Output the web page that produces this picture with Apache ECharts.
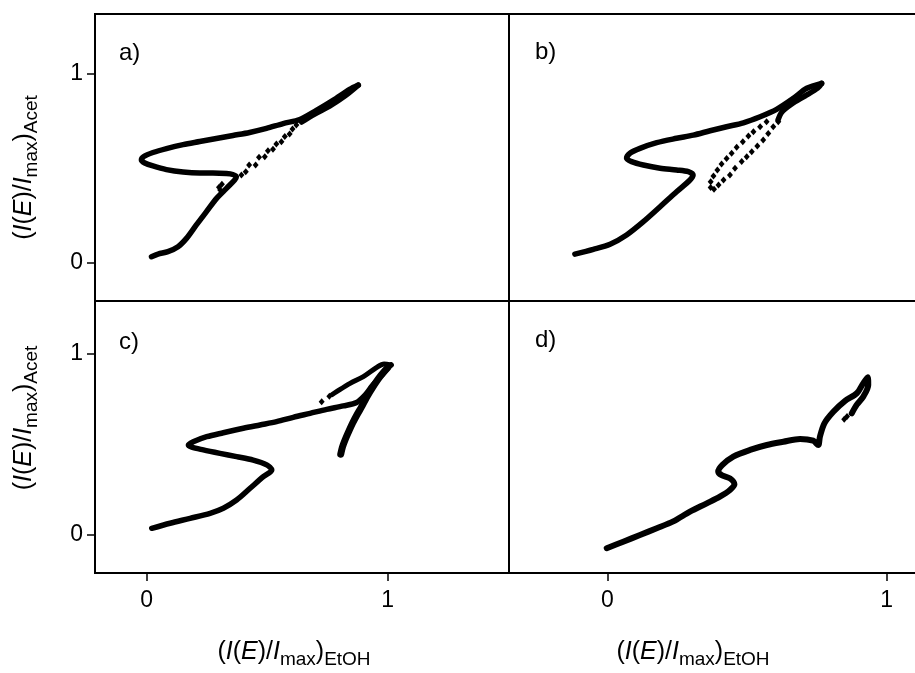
<!DOCTYPE html>
<html><head><meta charset="utf-8">
<script src="https://cdn.jsdelivr.net/npm/echarts@6/dist/echarts.min.js"></script>
<style>html,body{margin:0;padding:0;background:#fff}#c{width:915px;height:673px}</style>
</head><body><div id="c"></div>
<script>
// ---- tick values and labels ----
const xTicks = [0, 1];
const yTicks = [0, 1];
const panelLabels = ['a)', 'b)', 'c)', 'd)'];

// ---- panel a ----
const aPath = [[0.020,0.033],[0.047,0.047],[0.088,0.060],[0.130,0.086],[0.165,0.130],[0.206,0.201],[0.248,0.271],[0.290,0.341],[0.331,0.394],[0.365,0.438],[0.372,0.455],[0.357,0.467],[0.331,0.472],[0.275,0.475],[0.220,0.475],[0.151,0.480],[0.082,0.493],[0.026,0.512],[-0.008,0.528],[-0.022,0.544],[-0.012,0.562],[0.026,0.583],[0.082,0.604],[0.151,0.625],[0.220,0.641],[0.289,0.657],[0.358,0.673],[0.427,0.689],[0.497,0.710],[0.566,0.736],[0.635,0.757],[0.704,0.805],[0.773,0.858],[0.842,0.916],[0.878,0.939]];
const aReturn = [[0.878,0.939],[0.822,0.881],[0.759,0.828],[0.697,0.786],[0.643,0.744]];
const aDots = [[0.621,0.728],[0.605,0.707],[0.593,0.681],[0.573,0.667],[0.559,0.640],[0.538,0.628],[0.524,0.600],[0.503,0.593],[0.490,0.561],[0.466,0.558],[0.452,0.517],[0.425,0.517],[0.411,0.482],[0.393,0.464],[0.312,0.415],[0.300,0.400],[0.305,0.385]];

// ---- panel b ----
const bPath = [[-0.116,0.047],[-0.050,0.072],[0.010,0.099],[0.069,0.148],[0.129,0.218],[0.189,0.297],[0.248,0.376],[0.296,0.438],[0.307,0.464],[0.290,0.482],[0.248,0.491],[0.189,0.500],[0.129,0.517],[0.087,0.535],[0.069,0.553],[0.081,0.579],[0.117,0.605],[0.177,0.635],[0.248,0.658],[0.308,0.675],[0.368,0.698],[0.427,0.719],[0.487,0.740],[0.547,0.772],[0.606,0.811],[0.666,0.869],[0.714,0.922],[0.767,0.948]];
const bReturn = [[0.767,0.948],[0.753,0.923],[0.707,0.881],[0.660,0.839],[0.625,0.797],[0.611,0.755]];
const bDots = [[0.570,0.746],[0.547,0.719],[0.523,0.693],[0.505,0.670],[0.485,0.640],[0.463,0.611],[0.445,0.579],[0.427,0.552],[0.409,0.522],[0.394,0.491],[0.380,0.459],[0.370,0.429],
  [0.612,0.746],[0.594,0.719],[0.576,0.684],[0.558,0.649],[0.537,0.617],[0.517,0.587],[0.499,0.561],[0.481,0.535],[0.457,0.500],[0.439,0.464],[0.416,0.438],[0.398,0.412],
  [0.370,0.399],[0.382,0.389]];

// ---- panel c ----
const cPath = [[0.021,0.037],[0.097,0.065],[0.180,0.092],[0.263,0.120],[0.318,0.148],[0.373,0.193],[0.429,0.258],[0.484,0.322],[0.519,0.359],[0.498,0.387],[0.442,0.414],[0.373,0.433],[0.304,0.451],[0.235,0.470],[0.187,0.485],[0.173,0.497],[0.193,0.515],[0.249,0.543],[0.318,0.565],[0.401,0.590],[0.470,0.608],[0.539,0.626],[0.608,0.650],[0.678,0.672],[0.747,0.694],[0.816,0.713],[0.871,0.732],[0.906,0.773],[0.935,0.823],[0.968,0.873],[1.001,0.923],[1.014,0.939]];
const cLoopBack = [[1.014,0.939],[0.985,0.945],[0.953,0.925],[0.899,0.875],[0.844,0.838],[0.788,0.792],[0.770,0.776]];
const cDown = [[1.000,0.925],[0.968,0.875],[0.937,0.815],[0.912,0.760],[0.892,0.709],[0.872,0.663],[0.854,0.617],[0.838,0.571],[0.823,0.525],[0.812,0.485],[0.805,0.446]];
const cDots = [[0.758,0.766],[0.726,0.736]];

// ---- panel d ----
const dPath = [[-0.002,-0.073],[0.057,-0.037],[0.117,0.000],[0.177,0.037],[0.236,0.075],[0.296,0.129],[0.356,0.175],[0.403,0.212],[0.439,0.249],[0.455,0.280],[0.439,0.313],[0.409,0.331],[0.397,0.350],[0.412,0.387],[0.451,0.433],[0.511,0.470],[0.571,0.497],[0.630,0.515],[0.690,0.531],[0.737,0.521],[0.755,0.497],[0.761,0.543],[0.777,0.617],[0.809,0.681],[0.850,0.740],[0.893,0.783],[0.916,0.838],[0.932,0.872],[0.934,0.829],[0.916,0.764],[0.893,0.720],[0.875,0.672]];
const dDots = [[0.848,0.640],[0.858,0.655]];

const FONT = '"Liberation Sans", Arial, Helvetica, sans-serif';
const richName = {
  p: {fontSize: 25, fontFamily: FONT, lineHeight: 34, color: '#000'},
  i: {fontSize: 25, fontFamily: FONT, fontStyle: 'italic', lineHeight: 34, color: '#000'},
  s: {fontSize: 19, fontFamily: FONT, lineHeight: 19, verticalAlign: 'bottom', color: '#000'}
};
const yName = '{p|(}{i|I}{p|(}{i|E}{p|)/}{i|I}{s|max}{p|)}{s|Acet}';
const xName = '{p|(}{i|I}{p|(}{i|E}{p|)/}{i|I}{s|max}{p|)}{s|EtOH}';

const gridBox = [
  {left: 95, top: 14, width: 414, height: 287, show: true},
  {left: 509, top: 14, width: 406, height: 287, show: false},
  {left: 95, top: 301, width: 414, height: 272, show: true},
  {left: 509, top: 301, width: 406, height: 272, show: false}
];
const xRange = [[-0.2145, 1.5033], [-0.3518, 1.1013], [-0.2145, 1.5033], [-0.3518, 1.1013]];
const yRange = [[-0.2005, 1.314], [-0.2005, 1.314], [-0.21, 1.2928], [-0.21, 1.2928]];

const frameLine = {color: '#000', width: 2};
const tickStyle = {lineStyle: {color: '#000', width: 1.5}, length: 8, inside: false};
const labelStyle = {color: '#000', fontSize: 23, fontFamily: FONT};

const grids = gridBox.map(g => Object.assign({borderColor: '#000', borderWidth: 2, backgroundColor: 'transparent'}, g));

const xAxes = [];
[0,1,2,3].forEach(i => {
  const bottom = i >= 2;
  const right = (i % 2) === 1;
  const ax = {
    type: 'value', gridIndex: i, position: (i === 1) ? 'top' : 'bottom', min: xRange[i][0], max: xRange[i][1],
    axisLine: {show: right, onZero: false, lineStyle: frameLine}, splitLine: {show: false},
    axisTick: bottom ? Object.assign({show: true, customValues: xTicks}, tickStyle) : {show: false},
    axisLabel: bottom ? Object.assign({show: true, customValues: xTicks, margin: 16}, labelStyle) : {show: false}
  };
  if (bottom) {
    ax.name = xName;
    ax.nameLocation = 'middle';
    ax.nameGap = 62;
    ax.nameTextStyle = {rich: richName, padding: i === 2 ? [0, 16, 0, 0] : [0, 38, 0, 0]};
  }
  xAxes.push(ax);
});
// divider line between panels b and d (bottom edge of panel b)
xAxes.push({type: 'value', gridIndex: 1, position: 'bottom', min: xRange[1][0], max: xRange[1][1],
  axisLine: {show: true, onZero: false, lineStyle: frameLine}, splitLine: {show: false},
  axisTick: {show: false}, axisLabel: {show: false}});

const yAxes = [0,1,2,3].map(i => {
  const left = (i % 2) === 0;
  const ax = {
    type: 'value', gridIndex: i, position: 'left', min: yRange[i][0], max: yRange[i][1],
    axisLine: {show: !left, onZero: false, lineStyle: frameLine}, splitLine: {show: false},
    axisTick: left ? Object.assign({show: true, customValues: yTicks}, tickStyle) : {show: false},
    axisLabel: left ? Object.assign({show: true, customValues: yTicks, margin: 12}, labelStyle) : {show: false}
  };
  if (left) {
    ax.name = yName;
    ax.nameLocation = 'middle';
    ax.nameRotate = 90;
    ax.nameGap = 54;
    ax.nameTextStyle = {rich: richName, padding: i === 0 ? [0, 20, 0, 0] : [0, 0, 0, 38]};
  }
  return ax;
});

function lineS(data, idx, w) {
  return {type: 'line', data: data, xAxisIndex: idx, yAxisIndex: idx, smooth: 0.3,
    showSymbol: false, symbol: 'none', silent: true,
    lineStyle: {color: '#000', width: w || 5.5, cap: 'round', join: 'round'}};
}
function dotS(data, idx) {
  return {type: 'scatter', data: data, xAxisIndex: idx, yAxisIndex: idx, symbol: 'diamond',
    symbolSize: [6, 7], silent: true, itemStyle: {color: '#000', opacity: 1}};
}

const series = [
  lineS(aPath, 0), lineS(aReturn, 0), dotS(aDots, 0),
  lineS(bPath, 1), lineS(bReturn, 1), dotS(bDots, 1),
  lineS(cPath, 2), lineS(cLoopBack, 2, 5), lineS(cDown, 2, 7), dotS(cDots, 2),
  lineS(dPath, 3, 6), dotS(dDots, 3)
];

const labelPos = [[119, 41], [535, 40], [119, 330], [535, 328]];
const graphic = panelLabels.map((t, k) => ({
  type: 'text', left: labelPos[k][0], top: labelPos[k][1], silent: true,
  style: {text: t, font: '24px ' + FONT, fill: '#000'}
}));

const chart = echarts.init(document.getElementById('c'), null, {renderer: 'canvas'});
chart.setOption({
  animation: false,
  backgroundColor: '#fff',
  grid: grids,
  xAxis: xAxes,
  yAxis: yAxes,
  series: series,
  graphic: graphic
});
</script></body></html>
